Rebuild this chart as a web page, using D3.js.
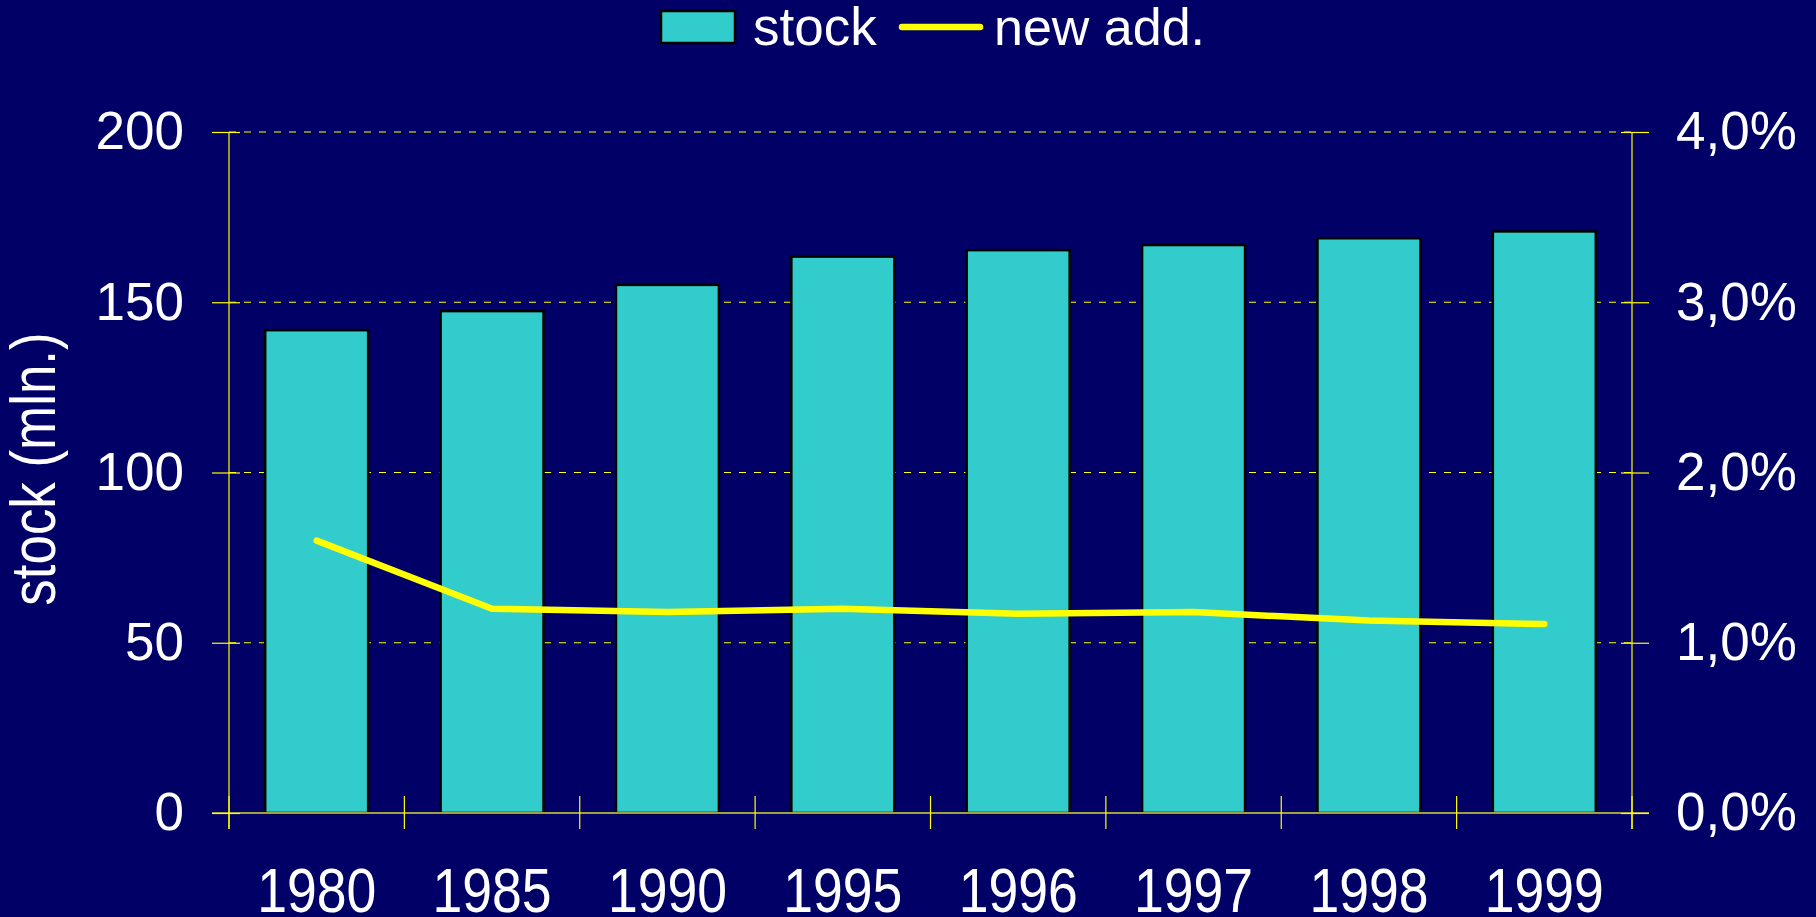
<!DOCTYPE html>
<html>
<head>
<meta charset="utf-8">
<script src="https://cdn.jsdelivr.net/npm/d3@7"></script>
<style>
  html, body { margin: 0; padding: 0; background: #000066; overflow: hidden; }
  svg { display: block; }
  text { font-family: "Liberation Sans", Arial, sans-serif; fill: #ffffff; }
</style>
</head>
<body>
<svg id="chart" width="1816" height="917"></svg>
<script>
const categories = ["1980", "1985", "1990", "1995", "1996", "1997", "1998", "1999"];
const stockValues = [141.8, 147.4, 155.1, 163.4, 165.3, 166.8, 168.8, 170.8];
const newAddValues = [1.60, 1.20, 1.18, 1.20, 1.17, 1.18, 1.13, 1.11];
const leftTicks = [0, 50, 100, 150, 200];
const rightTicks = [0, 1, 2, 3, 4];
const rightTickLabels = ["0,0%", "1,0%", "2,0%", "3,0%", "4,0%"];

(function () {
const W = 1816, H = 917;
const pLeft = 229, pRight = 1632, pTop = 132, pBottom = 813;
const svg = d3.select("#chart");
svg.append("rect").attr("width", W).attr("height", H).attr("fill", "#000066");

const x = d3.scaleBand().domain(categories).range([pLeft, pRight])
  .paddingInner(0.413).paddingOuter(0.2065);
const yL = d3.scaleLinear().domain([0, 200]).range([pBottom, pTop]);
const yR = d3.scaleLinear().domain([0, 4]).range([pBottom, pTop]);

const yellow = "#ffff00";

// gridlines (dashed)
svg.append("g").selectAll("line").data(leftTicks.filter(d => d > 0)).join("line")
  .attr("x1", pLeft).attr("x2", pRight)
  .attr("y1", d => yL(d)).attr("y2", d => yL(d))
  .attr("stroke", yellow).attr("stroke-width", 1.2)
  .attr("stroke-dasharray", "7,8");

// bars
svg.append("g").selectAll("rect").data(categories).join("rect")
  .attr("x", d => x(d))
  .attr("width", x.bandwidth())
  .attr("y", (d, i) => yL(stockValues[i]))
  .attr("height", (d, i) => yL(0) - yL(stockValues[i]))
  .attr("fill", "#33cccc")
  .attr("stroke", "#000000")
  .attr("stroke-width", 2.5);

// baseline
svg.append("line").attr("x1", pLeft - 17).attr("x2", pRight + 17)
  .attr("y1", yL(0)).attr("y2", yL(0))
  .attr("stroke", "#a0a040").attr("stroke-width", 2);

// left axis
const gL = svg.append("g").attr("transform", `translate(${pLeft},0)`)
  .call(d3.axisLeft(yL).tickValues(leftTicks).tickSize(17).tickPadding(28).tickFormat(d3.format("d")));
gL.select(".domain").remove();
gL.append("line").attr("x1", 0).attr("x2", 0).attr("y1", pTop).attr("y2", pBottom + 16)
  .attr("stroke", yellow).attr("stroke-width", 1.2);
gL.selectAll(".tick line").attr("stroke", yellow).attr("stroke-width", 1.2).attr("x2", -17);
gL.selectAll(".tick").append("line").attr("x1", 0).attr("x2", 11).attr("stroke", yellow).attr("stroke-width", 1.2);
gL.selectAll(".tick text").attr("fill", "#ffffff").attr("font-size", 53)
  .attr("font-family", '"Liberation Sans", Arial, sans-serif');

// right axis
const gR = svg.append("g").attr("transform", `translate(${pRight},0)`)
  .call(d3.axisRight(yR).tickValues(rightTicks).tickSize(17).tickPadding(27)
    .tickFormat((d, i) => rightTickLabels[i]));
gR.select(".domain").remove();
gR.append("line").attr("x1", 0).attr("x2", 0).attr("y1", pTop).attr("y2", pBottom + 16)
  .attr("stroke", yellow).attr("stroke-width", 1.2);
gR.selectAll(".tick line").attr("stroke", yellow).attr("stroke-width", 1.2);
gR.selectAll(".tick").append("line").attr("x1", 0).attr("x2", -11).attr("stroke", yellow).attr("stroke-width", 1.2);
gR.selectAll(".tick text").attr("fill", "#ffffff").attr("font-size", 53)
  .attr("font-family", '"Liberation Sans", Arial, sans-serif');

// x-axis ticks at category boundaries
const boundaries = d3.range(categories.length + 1).map(i => x.range()[0] + i * x.step());
svg.append("g").selectAll("line").data(boundaries).join("line")
  .attr("x1", d => d).attr("x2", d => d)
  .attr("y1", pBottom - 17).attr("y2", pBottom + 16)
  .attr("stroke", yellow).attr("stroke-width", 1.2);

// x labels (condensed)
svg.append("g").selectAll("text").data(categories).join("text")
  .attr("transform", d => `translate(${x(d) + x.bandwidth() / 2},912) scale(0.85,1)`)
  .attr("text-anchor", "middle")
  .attr("font-size", 63)
  .text(d => d);

// line
const line = d3.line()
  .x((d, i) => x(categories[i]) + x.bandwidth() / 2)
  .y(d => yR(d));
svg.append("path").datum(newAddValues)
  .attr("d", line)
  .attr("fill", "none")
  .attr("stroke", yellow)
  .attr("stroke-width", 6.5)
  .attr("stroke-linecap", "round")
  .attr("stroke-linejoin", "round");

// y axis title
svg.append("text")
  .attr("transform", "translate(55,469) rotate(-90) scale(0.84,1)")
  .attr("text-anchor", "middle")
  .attr("font-size", 63)
  .text("stock (mln.)");

// legend
const lg = svg.append("g");
lg.append("rect").attr("x", 661).attr("y", 11).attr("width", 74).attr("height", 32)
  .attr("fill", "#33cccc").attr("stroke", "#000000").attr("stroke-width", 2.5);
lg.append("text").attr("x", 753).attr("y", 45).attr("font-size", 53).text("stock");
lg.append("line").attr("x1", 902).attr("x2", 980).attr("y1", 27).attr("y2", 27)
  .attr("stroke", yellow).attr("stroke-width", 6.5).attr("stroke-linecap", "round");
lg.append("text").attr("x", 994).attr("y", 45).attr("font-size", 52).text("new add.");
})();
</script>
</body>
</html>
